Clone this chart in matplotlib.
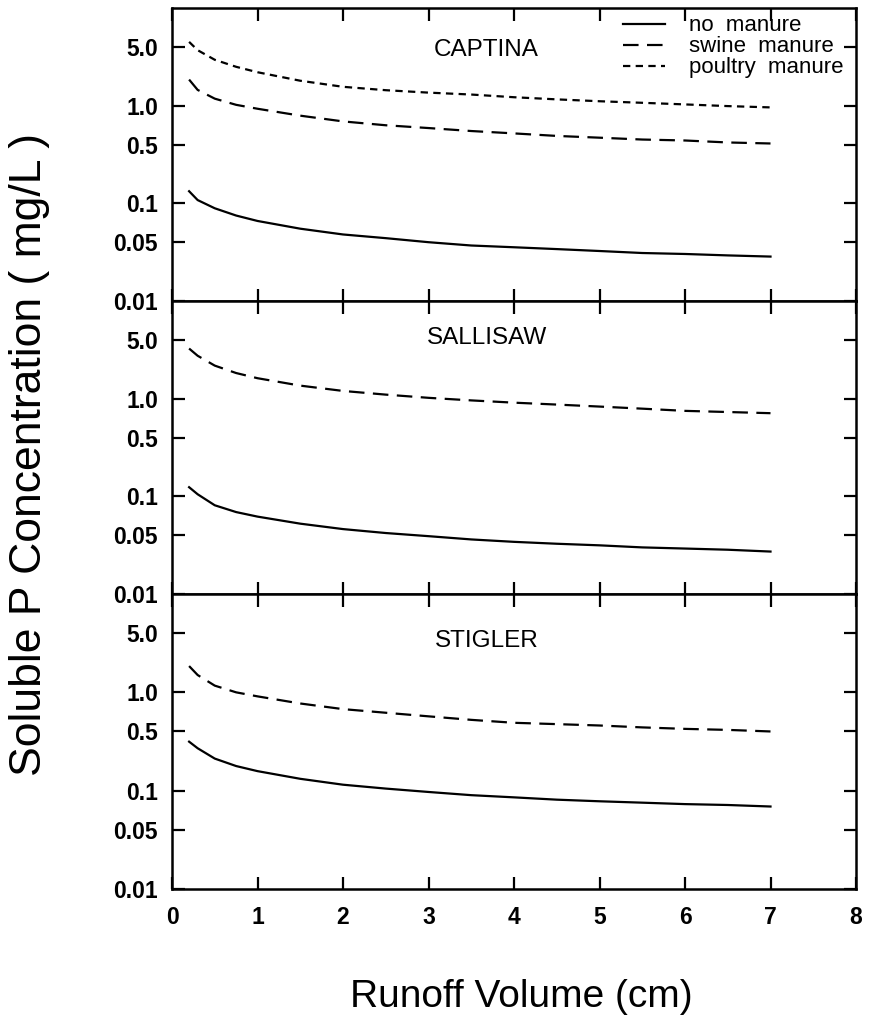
import matplotlib
matplotlib.use("Agg")
import matplotlib.pyplot as plt
import numpy as np

plt.rcParams['font.family'] = ['Liberation Sans', 'DejaVu Sans']

# ---- data ----
runoff = [0.2, 0.3, 0.5, 0.75, 1.0, 1.5, 2.0, 2.5, 3.0, 3.5, 4.0, 4.5, 5.0, 5.5, 6.0, 6.5, 7.0]

soils = ["CAPTINA", "SALLISAW", "STIGLER"]
series_names = ["no manure", "swine manure", "poultry manure"]
legend_labels = ["no  manure", "swine  manure", "poultry  manure"]

captina_none = [0.133, 0.108, 0.089, 0.075, 0.066, 0.055, 0.048, 0.044, 0.040, 0.037, 0.0355, 0.034, 0.0325, 0.031, 0.0303, 0.0293, 0.0285]
captina_swine = [1.85, 1.45, 1.18, 1.02, 0.93, 0.79, 0.69, 0.63, 0.59, 0.55, 0.52, 0.49, 0.47, 0.45, 0.44, 0.42, 0.41]
captina_poultry = [4.5, 3.7, 2.95, 2.5, 2.2, 1.8, 1.56, 1.44, 1.36, 1.30, 1.22, 1.16, 1.11, 1.07, 1.03, 0.99, 0.96]

sallisaw_none = [0.124, 0.105, 0.081, 0.069, 0.062, 0.0525, 0.0462, 0.0421, 0.0391, 0.0362, 0.0342, 0.0327, 0.0315, 0.030, 0.0292, 0.0284, 0.0272]
sallisaw_swine = [3.26, 2.75, 2.18, 1.83, 1.62, 1.36, 1.20, 1.10, 1.02, 0.96, 0.91, 0.87, 0.83, 0.79, 0.75, 0.73, 0.71]

stigler_none = [0.315, 0.27, 0.212, 0.178, 0.158, 0.132, 0.115, 0.105, 0.097, 0.090, 0.0855, 0.081, 0.078, 0.0755, 0.073, 0.0715, 0.069]
stigler_swine = [1.85, 1.5, 1.17, 1.0, 0.91, 0.77, 0.675, 0.62, 0.57, 0.525, 0.49, 0.475, 0.46, 0.44, 0.425, 0.415, 0.40]

ytick_pos = [0.01, 0.04, 0.1, 0.4, 1.0, 4.0]
ytick_labels = ["0.01", "0.05", "0.1", "0.5", "1.0", "5.0"]
xticks = [0, 1, 2, 3, 4, 5, 6, 7, 8]

panel_data = [
    {"no manure": captina_none, "swine manure": captina_swine, "poultry manure": captina_poultry},
    {"no manure": sallisaw_none, "swine manure": sallisaw_swine},
    {"no manure": stigler_none, "swine manure": stigler_swine},
]

styles = {
    "no manure": dict(linestyle='-'),
    "swine manure": dict(dashes=(7.0, 3.8)),
    "poultry manure": dict(dashes=(3.3, 2.4)),
}

W, H = 871, 1021
fig = plt.figure(figsize=(W / 100, H / 100), dpi=100)

left = 172 / W
right = 856 / W
bounds = [(8, 301), (301, 594), (594, 889)]
title_y = [0.855, 0.875, 0.842]

axes = []
for i, (top, bot) in enumerate(bounds):
    ax = fig.add_axes([left, 1 - bot / H, right - left, (bot - top) / H])
    axes.append(ax)
    for name, vals in panel_data[i].items():
        ax.plot(runoff, vals, color='black', lw=1.6,
                label=legend_labels[series_names.index(name)], **styles[name])
    ax.set_yscale('log')
    ax.set_ylim(0.01, 10)
    ax.set_xlim(0, 8)
    ax.set_yticks(ytick_pos)
    ax.set_yticklabels(ytick_labels)
    ax.yaxis.set_minor_locator(matplotlib.ticker.NullLocator())
    ax.set_xticks(xticks)
    ax.tick_params(axis='both', which='major', direction='in', length=9, width=1.6,
                   top=True, right=True, labelsize=16.5, pad=10)
    ax.tick_params(axis='x', pad=12)
    for lab in ax.get_yticklabels() + ax.get_xticklabels():
        lab.set_fontweight('bold')
    if i < 2:
        ax.tick_params(axis='x', labelbottom=False)
    for sp in ax.spines.values():
        sp.set_linewidth(1.8)
    ax.text(3.68, title_y[i], soils[i], transform=ax.get_xaxis_transform(),
            ha='center', va='center', fontsize=17.5)

leg = axes[0].legend(loc='upper right', frameon=False, fontsize=16, handlelength=1.9,
                     labelspacing=0.0, borderaxespad=0.0, handletextpad=1.1,
                     bbox_to_anchor=(0.995, 1.005))

fig.text(0.5 * (left + right) + 0.008, 1 - 997 / H, "Runoff Volume (cm)", ha='center', va='center',
         fontsize=28)
fig.text(30 / W, 1 - 455 / H, "Soluble P Concentration ( mg/L )", ha='center', va='center',
         rotation=90, fontsize=32)

fig.savefig("out.png", dpi=100)
